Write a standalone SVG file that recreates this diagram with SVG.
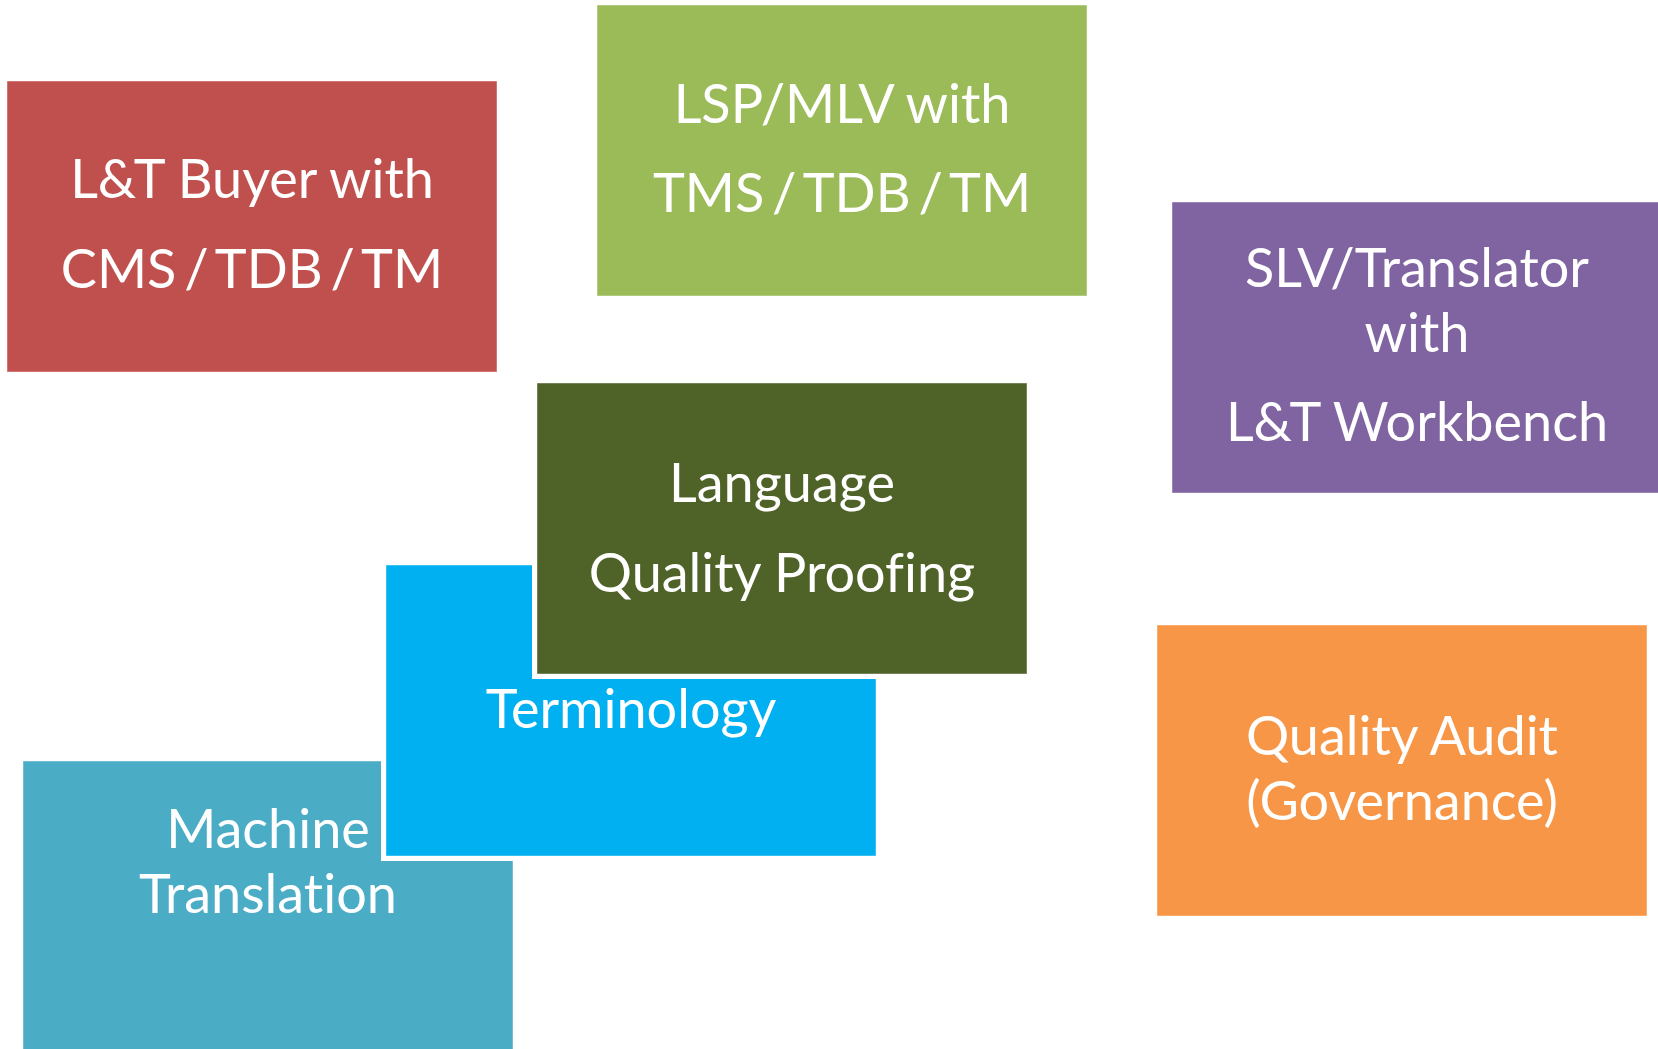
<svg xmlns="http://www.w3.org/2000/svg" width="1658" height="1049" viewBox="0 0 1658 1049">
  <style>
    .halo { fill: #FFFFFF; }
    .box { stroke: #FFFFFF; stroke-opacity: 0.45; stroke-width: 1; }
    .lbl { font-family: Lato, "Open Sans", "Liberation Sans", sans-serif; font-size: 54px; fill: #FFFFFF; text-anchor: middle; font-variant-ligatures: none; font-feature-settings: "liga" 0, "clig" 0; }
    .tight { word-spacing: -6px; }
  </style>
  <rect x="0" y="0" width="1658" height="1049" fill="#FFFFFF"/>

  <!-- stacked workflow blocks, drawn bottom to top -->
  <g id="machine-translation">
    <rect class="halo" x="18" y="756" width="500" height="301"/>
    <rect class="box" x="23" y="761" width="490" height="291" fill="#4BACC6"/>
    <text class="lbl" x="268" y="848">Machine</text>
    <text class="lbl" x="268" y="913">Translation</text>
  </g>

  <g id="terminology">
    <rect class="halo" x="381" y="560" width="500" height="301"/>
    <rect class="box" x="386" y="565" width="490" height="291" fill="#00B0F0"/>
    <text class="lbl" x="631" y="728">Terminology</text>
  </g>

  <g id="language-quality-proofing">
    <rect class="halo" x="532" y="378" width="500" height="301"/>
    <rect class="box" x="537" y="383" width="490" height="291" fill="#4F6228"/>
    <text class="lbl" x="782" y="502">Language</text>
    <text class="lbl" x="782" y="592">Quality Proofing</text>
  </g>

  <!-- stakeholder blocks -->
  <g id="lt-buyer">
    <rect class="box" x="7" y="81" width="490" height="291" fill="#C0504D"/>
    <text class="lbl" x="252" y="198">L&amp;T Buyer with</text>
    <text class="lbl tight" x="252" y="288">CMS / TDB / TM</text>
  </g>

  <g id="lsp-mlv">
    <rect class="box" x="597" y="5" width="490" height="291" fill="#9BBB59"/>
    <text class="lbl" x="842" y="123">LSP/MLV with</text>
    <text class="lbl tight" x="842" y="212">TMS / TDB / TM</text>
  </g>

  <g id="slv-translator">
    <rect class="box" x="1172" y="202" width="490" height="291" fill="#8064A2"/>
    <text class="lbl" x="1417" y="287">SLV/Translator</text>
    <text class="lbl" x="1417" y="352">with</text>
    <text class="lbl" x="1417" y="441">L&amp;T Workbench</text>
  </g>

  <g id="quality-audit">
    <rect class="box" x="1157" y="625" width="490" height="291" fill="#F79646"/>
    <text class="lbl" x="1402" y="755">Quality Audit</text>
    <text class="lbl" x="1402" y="820">(Governance)</text>
  </g>

  <g id="connectors"/>
</svg>
